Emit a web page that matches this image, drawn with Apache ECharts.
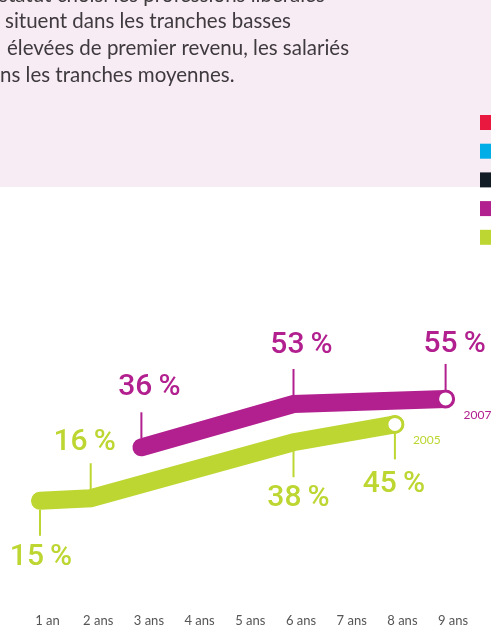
<!DOCTYPE html>
<html>
<head>
<meta charset="utf-8">
<script src="https://cdn.jsdelivr.net/npm/echarts@6/dist/echarts.min.js"></script>
<style>
  html, body { margin: 0; padding: 0; background: #fff; }
  #chart { width: 491px; height: 627px; }
</style>
</head>
<body>
<div id="chart"></div>
<script>
var years = ["1 an", "2 ans", "3 ans", "4 ans", "5 ans", "6 ans", "7 ans", "8 ans", "9 ans"];
var values2007 = [null, null, 36, null, null, 53, null, null, 55];
var values2005 = [15, 16, null, null, null, 38, null, 45, null];
var introLines = [
  "statut choisi les professions libérales",
  "situent dans les tranches basses",
  "élevées de premier revenu, les salariés",
  "ns les tranches moyennes."
];
var legendColors = ["#e8183e", "#00ade6", "#121c24", "#b21f8e", "#bdd631"];

var magenta = "#b21f8e";
var lime = "#bdd631";

// where each callout goes: side (-1 up, 1 down), x shift, distance of the label
var callouts2007 = { 2: [-1, 8, 60], 5: [-1, 8, 59], 8: [-1, 9, 54] };
var callouts2005 = { 0: [1, 1, 57], 1: [-1, -6, 56], 5: [1, 5, 56], 7: [1, -1, 60] };

function lastIndex(arr) {
  for (var i = arr.length - 1; i >= 0; i--) if (arr[i] != null) return i;
  return -1;
}

function lineSeries(name, data, color) {
  var last = lastIndex(data);
  return {
    name: name,
    type: "line",
    data: data,
    connectNulls: true,
    silent: true,
    symbol: function (v, p) { return p.dataIndex === last ? "circle" : "none"; },
    symbolSize: 16,
    itemStyle: { color: "#fff", borderColor: color, borderWidth: 3 },
    lineStyle: { color: color, width: 18, cap: "round", join: "miter" },
    endLabel: {
      show: true,
      formatter: name,
      color: color,
      fontFamily: "Lato",
      fontSize: 12,
      distance: 0,
      offset: [18, 16]
    },
    z: 2
  };
}

function calloutSeries(data, layout, color) {
  var items = [];
  data.forEach(function (v, i) {
    if (v != null && layout[i]) items.push([i, v].concat(layout[i]));
  });
  return {
    type: "custom",
    silent: true,
    data: items,
    z: 3,
    renderItem: function (params, api) {
      var pt = api.coord([api.value(0), api.value(1)]);
      var side = api.value(2), dx = api.value(3), dist = api.value(4);
      return {
        type: "group",
        children: [
          {
            type: "line",
            shape: { x1: pt[0], y1: pt[1] + side * 9, x2: pt[0], y2: pt[1] + side * 35 },
            style: { stroke: color, lineWidth: 2 }
          },
          {
            type: "text",
            style: {
              text: api.value(1) + "\u2009%",
              x: pt[0] + dx,
              y: pt[1] + side * dist,
              align: "center",
              verticalAlign: "middle",
              fill: color,
              font: "500 30px Roboto"
            }
          }
        ]
      };
    }
  };
}

var graphics = [
  { type: "rect", shape: { x: 0, y: 0, width: 491, height: 187 }, style: { fill: "#f7ecf4" }, z: -1 }
];
var lineX = [-1, 5, 7, 0];
introLines.forEach(function (t, i) {
  graphics.push({
    type: "text",
    x: lineX[i],
    y: -5 + i * 26.8,
    style: { text: t, fill: "#3e3a3d", font: "20.5px Lato", verticalAlign: "middle" }
  });
});
legendColors.forEach(function (c, i) {
  graphics.push({
    type: "rect",
    shape: { x: 480, y: 115 + i * 28.7, width: 12, height: 15 },
    style: { fill: c }
  });
});

var myChart = echarts.init(document.getElementById("chart"));

var option = {
  backgroundColor: "#fff",
  animation: false,
  graphic: graphics,
  grid: { left: 40, right: 45.4, top: 284.3, bottom: 87.7 },
  xAxis: {
    type: "category",
    data: years,
    boundaryGap: false,
    axisLine: { show: false },
    axisTick: { show: false },
    splitLine: { show: false },
    axisLabel: {
      color: "#555",
      fontFamily: "Lato",
      fontSize: 13,
      margin: 75,
      padding: [0, 0, 0, 15],
      interval: 0
    }
  },
  yAxis: {
    type: "value",
    min: 0,
    max: 100,
    show: false
  },
  series: [
    lineSeries("2007", values2007, magenta),
    lineSeries("2005", values2005, lime),
    calloutSeries(values2007, callouts2007, magenta),
    calloutSeries(values2005, callouts2005, lime)
  ]
};

myChart.setOption(option);
</script>
</body>
</html>
